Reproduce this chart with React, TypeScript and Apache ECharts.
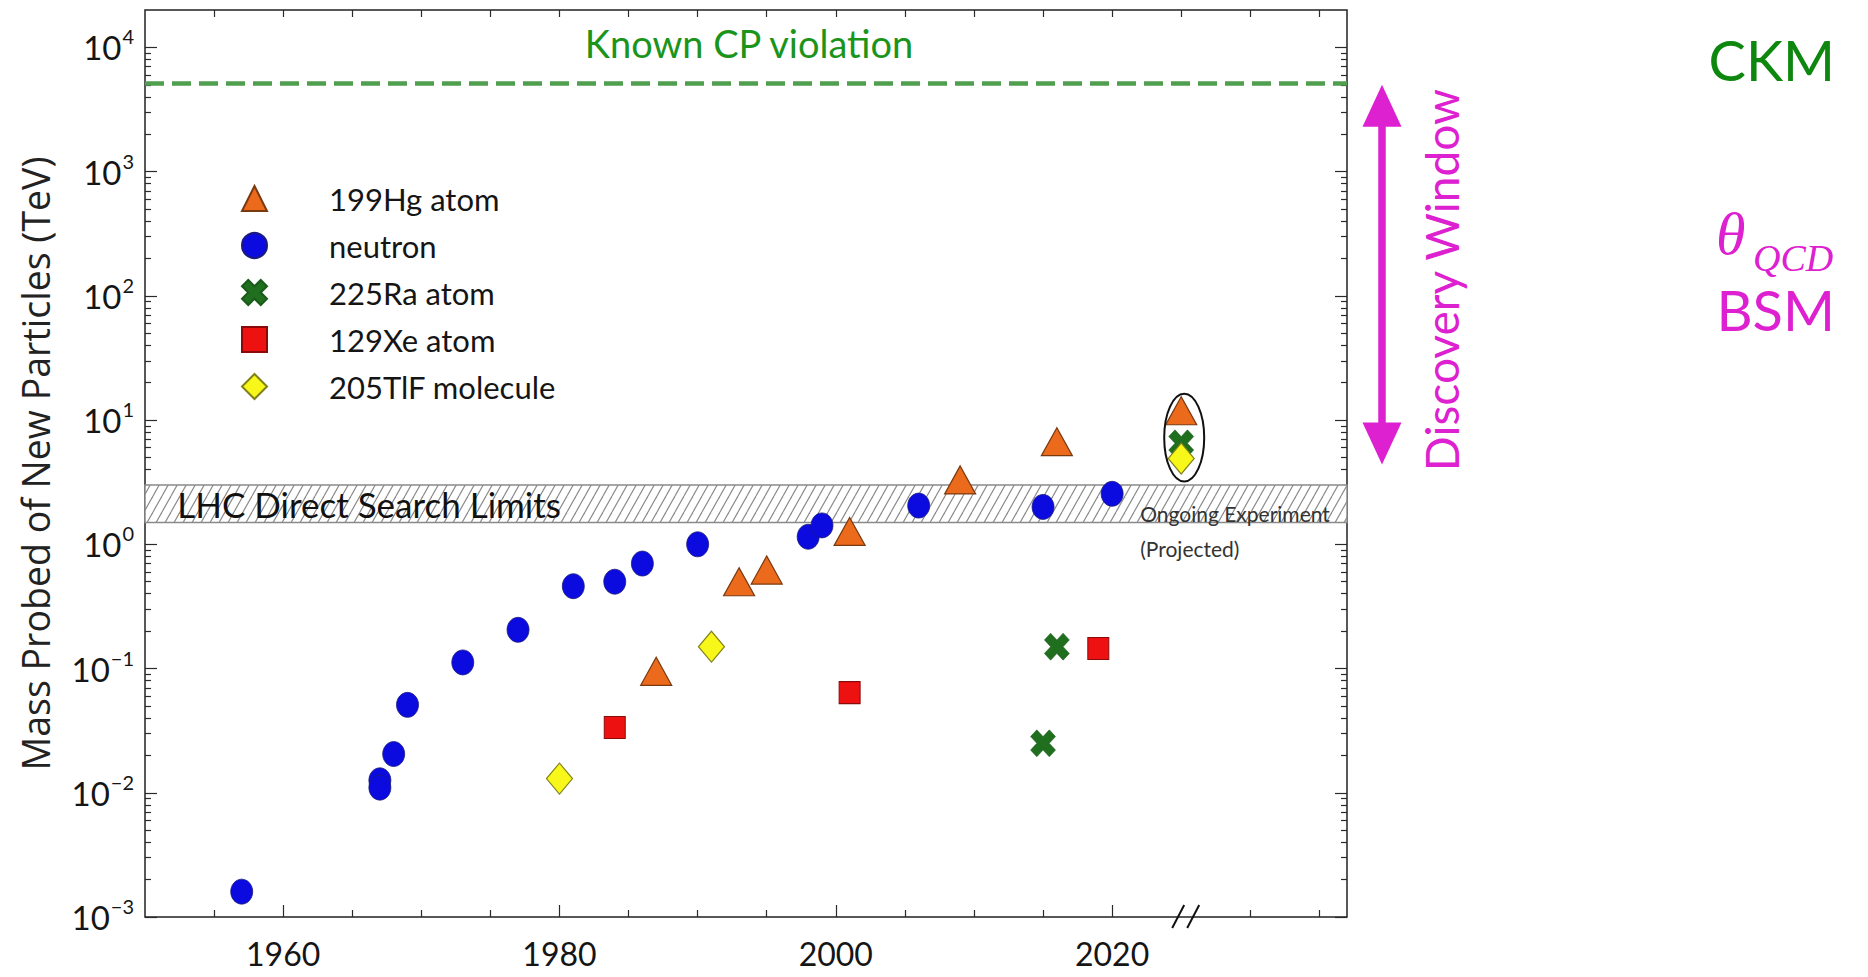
import React, { useEffect, useRef } from 'react';
import * as echarts from 'echarts';

// ---------------- data ----------------
const seriesNames = ['199Hg atom', 'neutron', '225Ra atom', '129Xe atom', '205TlF molecule'];

const hgYears = [1987, 1993, 1995, 2001, 2009, 2016, 2025];
const hgMass = [0.095, 0.5, 0.62, 1.27, 3.3, 6.7, 11.9];

const neutronYears = [1957, 1967, 1967, 1968, 1969, 1973, 1977, 1981, 1984, 1986, 1990, 1998, 1999, 2006, 2015, 2020];
const neutronMass = [0.0016, 0.0126, 0.011, 0.0205, 0.051, 0.112, 0.205, 0.46, 0.5, 0.7, 1.0, 1.15, 1.42, 2.05, 2.0, 2.55];

const raYears = [2015, 2016, 2025];
const raMass = [0.025, 0.15, 6.5];

const xeYears = [1984, 2001, 2019];
const xeMass = [0.0335, 0.064, 0.145];

const tlfYears = [1980, 1991, 2025];
const tlfMass = [0.013, 0.15, 4.9];

const knownCP = 5100;
const lhcLimits = [1.5, 3.0];
const discoveryWindow = [4.4, 5100];
const projectedYear = 2025;

const xRange = [1950, 2037];
const yRange = [0.001, 20000];
const xLabelYears = [1960, 1980, 2000, 2020];
const xMinorYears = [1955, 1965, 1970, 1975, 1985, 1990, 1995, 2005, 2010, 2015, 2030, 2035];
const xTopYears = [1955, 1960, 1965, 1970, 1975, 1980, 1985, 1990, 1995, 2000, 2005, 2010, 2015, 2020, 2025, 2030, 2035];
const yDecades = [-3, -2, -1, 0, 1, 2, 3, 4];
const minorMultipliers = [2, 3, 4, 5, 6, 7, 8, 9];

const X_PATH = 'path://M0,2.5 L2.5,0 L5,2.5 L7.5,0 L10,2.5 L7.5,5 L10,7.5 L7.5,10 L5,7.5 L2.5,10 L0,7.5 L2.5,5 Z';

export default function App() {
  const ref = useRef<HTMLDivElement>(null);

  useEffect(() => {
    if (!ref.current) return;
    const chart = echarts.init(ref.current, undefined, { renderer: 'svg' });

    // hatch pattern for LHC band
    const hatch = document.createElement('canvas');
    hatch.width = 9;
    hatch.height = 16;
    const g = hatch.getContext('2d')!;
    g.fillStyle = '#ffffff';
    g.fillRect(0, 0, 9, 16);
    g.strokeStyle = '#8a8a8a';
    g.lineWidth = 1.2;
    for (const dx of [-9, 0, 9]) {
      g.beginPath();
      g.moveTo(dx, 16);
      g.lineTo(dx + 9, 0);
      g.stroke();
    }

    const logMin = Math.log10(yRange[0]);
    const logMax = Math.log10(yRange[1]);
    const yMinorLog = yDecades.slice(0, -1).flatMap((e) => minorMultipliers.map((m) => Math.log10(m) + e));

    const tickColor = '#2a2a2a';
    const xTickAxis = (position: string, values: number[], len: number) => ({
      type: 'value', position, min: xRange[0], max: xRange[1],
      axisLine: { show: false, onZero: false }, splitLine: { show: false }, axisLabel: { show: false },
      axisTick: { show: true, inside: true, length: len, customValues: values, lineStyle: { color: tickColor, width: 1.2 } },
    });
    const yTickAxis = (position: string, values: number[], len: number) => ({
      type: 'value', position, min: logMin, max: logMax,
      axisLine: { show: false, onZero: false }, splitLine: { show: false }, axisLabel: { show: false },
      axisTick: { show: true, inside: true, length: len, customValues: values, lineStyle: { color: tickColor, width: 1.2 } },
    });

    const mk = (name: string, years: number[], vals: number[], symbol: string, size: number[], color: string, border: string, bw: number) => ({
      type: 'scatter', name, xAxisIndex: 0, yAxisIndex: 0, symbol, symbolSize: size,
      data: years.map((y, i) => [y, vals[i]]),
      itemStyle: { color, borderColor: border, borderWidth: bw, opacity: 1 },
      emphasis: { disabled: true }, z: 3,
    });

    const option: any = {
      animation: false,
      backgroundColor: '#ffffff',
      grid: { left: 145, right: 521, top: 10, bottom: 60, show: true, borderColor: '#222', borderWidth: 1.5, backgroundColor: 'transparent' },
      legend: {
        data: seriesNames, orient: 'vertical', left: 241, top: 183, padding: 0,
        itemWidth: 25, itemHeight: 25, itemGap: 16, selectedMode: false,
        formatter: (name: string) => `{sp|}{t|${name}}`,
        textStyle: {
          fontFamily: 'Lato', fontSize: 31, color: '#151515',
          rich: { sp: { width: 57 }, t: { fontFamily: 'Lato', fontSize: 31, color: '#151515' } },
        },
      },
      xAxis: [
        {
          type: 'value', position: 'bottom', min: xRange[0], max: xRange[1],
          axisLine: { show: false, onZero: false }, splitLine: { show: false },
          axisTick: { show: true, inside: true, length: 12, customValues: xLabelYears, lineStyle: { color: tickColor, width: 1.2 } },
          axisLabel: { customValues: xLabelYears, formatter: (v: number) => String(Math.round(v)), fontFamily: 'Lato', fontSize: 32, color: '#151515', margin: 20 },
        },
        xTickAxis('bottom', xMinorYears, 7),
        xTickAxis('top', xTopYears, 7),
      ],
      yAxis: [
        { type: 'log', logBase: 10, min: yRange[0], max: yRange[1], show: false, axisLine: { onZero: false } },
        {
          type: 'value', position: 'left', min: logMin, max: logMax,
          name: 'Mass Probed of New Particles (TeV)', nameLocation: 'middle', nameRotate: 90, nameGap: 91,
          nameTextStyle: { fontFamily: 'Open Sans', fontSize: 37.5, color: '#222' },
          axisLine: { show: false, onZero: false }, splitLine: { show: false },
          axisTick: { show: true, inside: true, length: 12, customValues: yDecades, lineStyle: { color: tickColor, width: 1.2 } },
          axisLabel: {
            customValues: yDecades, margin: 11,
            formatter: (v: number) => {
              const n = Math.round(v);
              return `{b|10}{s|${n < 0 ? '\u2212' + -n : n}}`;
            },
            rich: {
              b: { fontFamily: 'Lato', fontSize: 33, color: '#151515', lineHeight: 34 },
              s: { fontFamily: 'Lato', fontSize: 20, color: '#151515', lineHeight: 20, padding: [0, 0, 22, 1] },
            },
          },
        },
        yTickAxis('left', yMinorLog, 6),
        yTickAxis('right', yDecades, 12),
        yTickAxis('right', yMinorLog, 6),
      ],
      series: [
        {
          type: 'scatter', name: 'band', data: [], xAxisIndex: 0, yAxisIndex: 0, silent: true, z: 1,
          markArea: {
            silent: true,
            itemStyle: { color: { image: hatch, repeat: 'repeat' }, borderColor: '#8a8a8a', borderWidth: 1.5 },
            label: { show: true, position: 'insideLeft', offset: [28, 0], formatter: 'LHC Direct Search Limits', fontFamily: 'Lato', fontSize: 35, color: '#111' },
            data: [[{ yAxis: lhcLimits[0] }, { yAxis: lhcLimits[1] }]],
          },
          markLine: {
            silent: true, symbol: 'none', label: { show: false },
            lineStyle: { color: '#4f9f4f', width: 4.5, type: [19, 8] },
            data: [{ yAxis: knownCP }],
          },
        },
        mk(seriesNames[0], hgYears, hgMass, 'triangle', [31, 28], '#ec6a1c', '#7a3a10', 1.2),
        mk(seriesNames[1], neutronYears, neutronMass, 'circle', [22, 25], '#0b0bdf', '#1a1a80', 0.8),
        mk(seriesNames[2], raYears, raMass, X_PATH, [25, 27], '#1f6f1f', '#1a5a1a', 0.5),
        mk(seriesNames[3], xeYears, xeMass, 'rect', [21, 22], '#ee1111', '#8a0a0a', 1),
        mk(seriesNames[4], tlfYears, tlfMass, 'diamond', [26, 31], '#f7f71a', '#808018', 1.2),
      ],
    };

    chart.setOption(option);

    const p = (x: number, y: number) => chart.convertToPixel({ xAxisIndex: 0, yAxisIndex: 0 }, [x, y]) as number[];
    const [projX, triY] = p(projectedYear, hgMass[hgMass.length - 1]);
    const [, diaY] = p(projectedYear, tlfMass[tlfMass.length - 1]);
    const [, bandBottom] = p(projectedYear, lhcLimits[0]);
    const [xL, axisY] = p(xRange[0], yRange[0]);
    const [xR] = p(xRange[1], yRange[0]);
    const [, cpY] = p(projectedYear, knownCP);
    const [, dwTop] = p(projectedYear, discoveryWindow[1]);
    const [, dwBot] = p(projectedYear, discoveryWindow[0]);

    const ellTop = triY - 17;
    const ellBot = diaY + 23;
    const bx = projX + 4;
    const arrowX = 1382;
    const magenta = '#dd20d0';

    chart.setOption({
      graphic: [
        { type: 'ellipse', z: 50, shape: { cx: projX + 3, cy: (ellTop + ellBot) / 2, rx: 20, ry: (ellBot - ellTop) / 2 }, style: { fill: 'none', stroke: '#111', lineWidth: 2 } },
        { type: 'line', z: 50, shape: { x1: bx - 13, y1: axisY + 11, x2: bx - 1, y2: axisY - 12 }, style: { stroke: '#111', lineWidth: 2 } },
        { type: 'line', z: 50, shape: { x1: bx + 2, y1: axisY + 11, x2: bx + 14, y2: axisY - 12 }, style: { stroke: '#111', lineWidth: 2 } },
        { type: 'text', z: 50, x: projX - 41, y: bandBottom - 9, style: { text: 'Ongoing Experiment', fontFamily: 'Lato', fontSize: 21, fill: '#333', align: 'left', verticalAlign: 'middle' } },
        { type: 'text', z: 50, x: projX - 41, y: bandBottom + 26, style: { text: '(Projected)', fontFamily: 'Lato', fontSize: 21, fill: '#333', align: 'left', verticalAlign: 'middle' } },
        { type: 'text', z: 50, x: (xL + xR) / 2 + 3, y: cpY - 41, style: { text: 'Known CP violation', fontFamily: 'Lato', fontSize: 38, fill: '#1b941b', align: 'center', verticalAlign: 'middle' } },
        // discovery window arrow
        { type: 'rect', z: 50, shape: { x: arrowX - 3.75, y: dwTop + 40, width: 7.5, height: dwBot - dwTop - 80 }, style: { fill: magenta } },
        { type: 'polygon', z: 50, shape: { points: [[arrowX, dwTop + 1], [arrowX - 19.5, dwTop + 43], [arrowX + 19.5, dwTop + 43]] }, style: { fill: magenta } },
        { type: 'polygon', z: 50, shape: { points: [[arrowX, dwBot], [arrowX - 19.5, dwBot - 42], [arrowX + 19.5, dwBot - 42]] }, style: { fill: magenta } },
        { type: 'text', z: 50, x: 1441, y: (dwTop + dwBot) / 2 + 6, rotation: Math.PI / 2, style: { text: 'Discovery Window', fontFamily: 'Lato', fontSize: 46, fill: magenta, align: 'center', verticalAlign: 'middle' } },
        // right side labels
        { type: 'text', z: 50, x: 1835, y: 59, style: { text: 'CKM', fontFamily: 'Lato', fontSize: 56, fill: '#0d870d', align: 'right', verticalAlign: 'middle' } },
        { type: 'text', z: 50, x: 1716, y: 234, style: { text: '\u03B8', fontFamily: 'Liberation Serif', fontStyle: 'italic', fontSize: 60, fill: magenta, align: 'left', verticalAlign: 'middle' } },
        { type: 'text', z: 50, x: 1753, y: 258, style: { text: 'QCD', fontFamily: 'Liberation Serif', fontStyle: 'italic', fontSize: 38, fill: magenta, align: 'left', verticalAlign: 'middle' } },
        { type: 'text', z: 50, x: 1835, y: 309, style: { text: 'BSM', fontFamily: 'Lato', fontSize: 56, fill: magenta, align: 'right', verticalAlign: 'middle' } },
      ],
    });

    return () => chart.dispose();
  }, []);

  return <div ref={ref} style={{ position: 'fixed', left: 0, top: 0, width: 1868, height: 977, background: '#fff' }} />;
}
